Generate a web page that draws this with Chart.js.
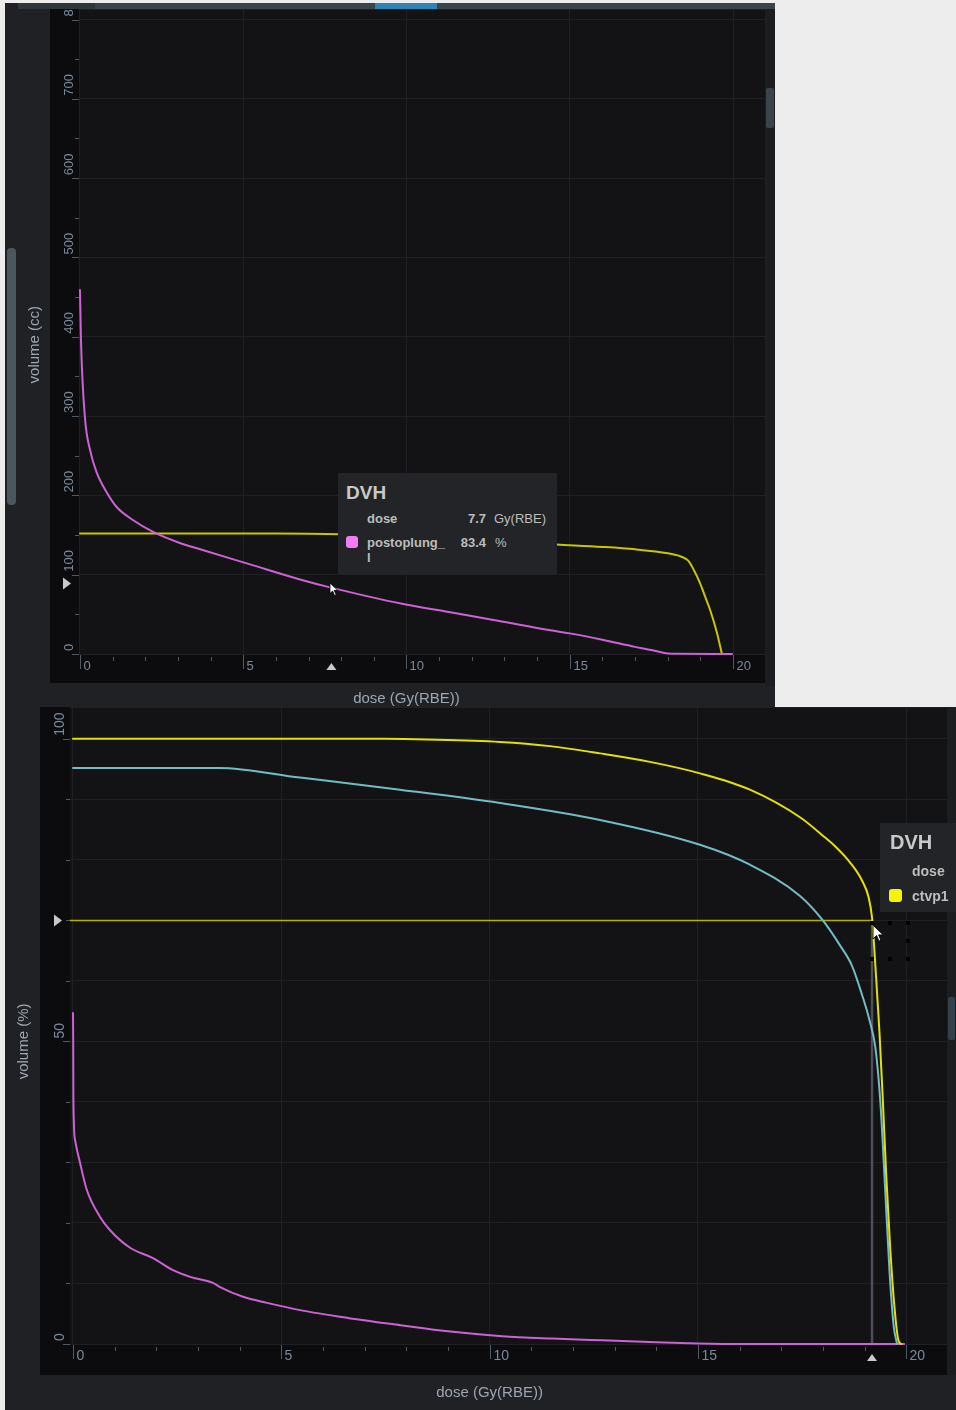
<!DOCTYPE html>
<html>
<head>
<meta charset="utf-8">
<title>DVH</title>
<script src="https://cdn.jsdelivr.net/npm/chart.js@4.4.1/dist/chart.umd.min.js"></script>
<style>
  html, body { margin: 0; padding: 0; }
  body { width: 956px; height: 1410px; background: #ededed; position: relative; overflow: hidden;
         font-family: "Liberation Sans", Arial, sans-serif; }
  canvas { position: absolute; }
  #topChart { left: 5px; top: 3px; }
  #botChart { left: 5px; top: 707px; }
  .tip { position: absolute; background: #222427; color: #bdbdbd; }
  .tip span { position: absolute; line-height: 1; white-space: nowrap; }
  .tip .b { font-weight: bold; }
  .sq { position: absolute; border-radius: 3px; }
  .dot { position: absolute; width: 4px; height: 4px; background: #000; }
  svg { position: absolute; }
</style>
</head>
<body>
<canvas id="topChart" width="770" height="704"></canvas>
<canvas id="botChart" width="951" height="703"></canvas>

<!-- hover box, upper chart -->
<div class="tip" style="left:338px;top:473px;width:219px;height:101px;">
  <span class="b" style="left:8px;top:10px;font-size:19px;color:#c9c9c9;">DVH</span>
  <span class="b" style="left:29px;top:39px;font-size:13px;">dose</span>
  <span class="b" style="right:71px;top:39px;font-size:13px;">7.7</span>
  <span style="left:156px;top:39px;font-size:13px;">Gy(RBE)</span>
  <div class="sq" style="left:8px;top:63px;width:12px;height:12px;background:#f27df2;"></div>
  <span class="b" style="left:29px;top:63px;font-size:13px;">postoplung_</span>
  <span class="b" style="right:71px;top:63px;font-size:13px;">83.4</span>
  <span style="left:157px;top:63px;font-size:13px;">%</span>
  <span class="b" style="left:29px;top:78px;font-size:13px;">l</span>
</div>

<!-- hover box, lower chart -->
<div class="tip" style="left:880px;top:823px;width:100px;height:89px;">
  <span class="b" style="left:10px;top:9px;font-size:20px;color:#c9c9c9;">DVH</span>
  <span class="b" style="left:32px;top:41px;font-size:14px;">dose</span>
  <div class="sq" style="left:9px;top:66px;width:13px;height:13px;background:#f5f500;"></div>
  <span class="b" style="left:32px;top:66px;font-size:14px;">ctvp1</span>
</div>

<div class="dot" style="left:870px;top:921px;"></div>
<div class="dot" style="left:888px;top:921px;"></div>
<div class="dot" style="left:906px;top:921px;"></div>
<div class="dot" style="left:906px;top:939px;"></div>
<div class="dot" style="left:870px;top:957px;"></div>
<div class="dot" style="left:888px;top:957px;"></div>
<div class="dot" style="left:906px;top:957px;"></div>

<svg style="left:329px;top:582px;" width="11" height="15"><path d="M1 1 L1 11.5 L3.6 9 L5.6 13.5 L7.2 12.8 L5.2 8.3 L8.8 8.3 Z" fill="#fff" stroke="#000" stroke-width="0.8"/></svg>
<svg style="left:872px;top:924px;" width="13" height="19"><path d="M1 1 L1 15 L4.5 11.6 L7 17.2 L9 16.3 L6.6 10.9 L11.2 10.9 Z" fill="#fff" stroke="#000" stroke-width="0.9"/></svg>

<script>
// upper chart: volume in cc
const topCtvDose  = [0, 6, 8, 10, 12, 14.6, 16, 17, 18, 18.4, 18.62, 18.8, 18.99, 19.15, 19.3, 19.51, 19.66];
const topCtvVol   = [152, 152, 151, 148, 144, 138, 135, 132, 127, 123, 118, 106, 89.5, 72, 55.5, 26.5, 0];
const topLungDose = [0, 0.03, 0.15, 0.31, 0.52, 0.83, 1.13, 1.62, 2.24, 3.06, 3.68, 5.21, 6.74, 7.66, 9.9, 11.3, 12.8, 14.4, 15.0, 16.0, 17.0, 17.5, 17.95, 18.3, 19.97];
const topLungVol  = [459, 396, 299, 257, 228, 203, 185, 169, 154, 140, 132, 113, 94, 84, 63, 53, 42, 30, 26, 18, 9, 5, 1, 0.2, 0];
const topYLabels  = [0, 100, 200, 300, 400, 500, 600, 700, 800];
const topXLabels  = [0, 5, 10, 15, 20];
const topMarker   = { dose: 7.7, vol: 89 };

// lower chart: volume in %
const botCtvDose  = [0, 7.5, 8.5, 10.25, 11.45, 12.65, 13.85, 15.05, 16.25, 17.46, 18.0, 18.3, 18.65, 18.94, 19.1, 19.18, 19.21, 19.31, 19.36, 19.4, 19.44, 19.52, 19.62, 19.72, 19.81, 19.88];
const botCtvVol   = [100, 100, 99.9, 99.5, 98.8, 97.6, 96.2, 94.3, 91.6, 87, 84, 82.2, 79.6, 76.6, 73.8, 70.5, 68, 57, 51.4, 45.8, 40.3, 28, 15.5, 6, 0.7, 0];
const botCyanDose = [0, 3.5, 5.45, 7.85, 10.25, 12.65, 15.05, 16.25, 17.46, 18.0, 18.4, 18.7, 18.95, 19.12, 19.26, 19.38, 19.5, 19.6, 19.7, 19.78];
const botCyanVol  = [95.2, 95.2, 93.6, 91.6, 89.4, 86.6, 82.5, 79.2, 74, 70, 66, 62.5, 57.5, 53.5, 49, 40, 25, 12, 3, 0];
const botLungDose = [0, 0.005, 0.01, 0.05, 0.17, 0.33, 0.65, 0.89, 1.37, 1.92, 2.4, 2.81, 3.36, 3.53, 4.08, 4.66, 5.45, 6.6, 7.86, 9, 10.3, 11.5, 12.7, 14, 15, 16, 19.95];
const botLungVol  = [54.7, 50, 40, 33.7, 29.9, 25.5, 21, 18.8, 15.9, 14.2, 12.2, 11.1, 10.1, 9.4, 7.8, 6.8, 5.6, 4.3, 3.1, 2.1, 1.3, 0.9, 0.6, 0.3, 0.1, 0, 0];
const botYLabels  = [0, 50, 100];
const botXLabels  = [0, 5, 10, 15, 20];
const botMarker   = { dose: 19.18, vol: 70 };
const crossHDose  = [-0.07, 19.18];
const crossHVol   = [70, 70];
const crossVDose  = [19.18, 19.18];
const crossVVol   = [0, 69];

const PANEL = '#1f2124', BAND = '#0c0c0e', PLOT = '#131316', GRID = '#1f2025';
const TICK = '#4f5a65', LABEL = '#7a8a9c', TITLE = '#9ea6b2';

const pts = (xs, ys) => xs.map((x, i) => ({ x: x, y: ys[i] }));

function line(xs, ys, color, width) {
  return {
    data: pts(xs, ys), borderColor: color, borderWidth: width,
    pointRadius: 0, cubicInterpolationMode: 'monotone', fill: false,
    borderJoinStyle: 'round', borderCapStyle: 'round',
    clip: { left: 3, top: 0, right: 0, bottom: 3 }
  };
}

// draws panel, dark axis bands, tick marks, rotated labels, titles, markers
function makeDecor(o) {
  return {
    id: 'decor',
    beforeDraw(chart) {
      const ctx = chart.ctx, ca = chart.chartArea;
      ctx.save();
      ctx.fillStyle = PANEL;
      ctx.fillRect(0, 0, chart.width, chart.height);
      ctx.fillStyle = BAND;
      ctx.fillRect(o.bandLeft, o.bandTop, ca.left - o.bandLeft, ca.bottom + o.xBandH - o.bandTop);
      ctx.fillRect(o.bandLeft, ca.bottom, ca.right - o.bandLeft, o.xBandH);
      ctx.fillStyle = PLOT;
      ctx.fillRect(ca.left, ca.top, ca.right - ca.left, ca.bottom - ca.top);
      ctx.restore();
    },
    afterDraw(chart) {
      const ctx = chart.ctx, ca = chart.chartArea;
      const xs = chart.scales.x, ys = chart.scales.y;
      ctx.save();
      ctx.lineWidth = 1;
      ctx.strokeStyle = TICK;
      ctx.fillStyle = LABEL;
      ctx.font = o.labelFont;
      ctx.textBaseline = 'middle';

      xs.ticks.forEach(t => {
        const px = Math.round(xs.getPixelForValue(t.value)) + 0.5;
        const major = o.xLabels.includes(t.value);
        ctx.beginPath();
        ctx.moveTo(px, ca.bottom + (major ? 1 : 3));
        ctx.lineTo(px, ca.bottom + (major ? 15 : 7));
        ctx.stroke();
        if (major) {
          ctx.textAlign = 'left';
          ctx.fillText(String(t.value), px + 3, ca.bottom + 12);
        }
      });

      ys.ticks.forEach(t => {
        const py = Math.round(ys.getPixelForValue(t.value)) + 0.5;
        const major = o.yLabels.includes(t.value);
        ctx.beginPath();
        ctx.moveTo(ca.left - (major ? 7 : 4), py);
        ctx.lineTo(ca.left, py);
        ctx.stroke();
      });
      o.yLabels.forEach(v => {
        const py = ys.getPixelForValue(v);
        ctx.save();
        ctx.translate(ca.left - o.yLabelDX, py - 3);
        ctx.rotate(-Math.PI / 2);
        ctx.textAlign = 'left';
        ctx.fillText(String(v), 0, 0);
        ctx.restore();
      });

      // axis titles
      ctx.fillStyle = TITLE;
      ctx.font = '15px "Liberation Sans", Arial, sans-serif';
      ctx.textAlign = 'center';
      ctx.fillText(o.xTitle, xs.getPixelForValue(o.xTitleAt), ca.bottom + o.xTitleDY);
      ctx.save();
      ctx.translate(o.yTitleX, ys.getPixelForValue(o.yTitleAt));
      ctx.rotate(-Math.PI / 2);
      ctx.fillText(o.yTitle, 0, 0);
      ctx.restore();

      // cursor markers on both axes
      ctx.fillStyle = '#c9c9c9';
      const my = ys.getPixelForValue(o.marker.vol);
      ctx.beginPath();
      ctx.moveTo(ca.left - 16, my - 6);
      ctx.lineTo(ca.left - 16, my + 6);
      ctx.lineTo(ca.left - 8, my);
      ctx.closePath();
      ctx.fill();
      const mx = xs.getPixelForValue(o.marker.dose);
      ctx.beginPath();
      ctx.moveTo(mx - 5, ca.bottom + o.triDY + 7);
      ctx.lineTo(mx + 5, ca.bottom + o.triDY + 7);
      ctx.lineTo(mx, ca.bottom + o.triDY);
      ctx.closePath();
      ctx.fill();

      // scrollbars of the viewer panel
      o.bars.forEach(b => {
        ctx.fillStyle = b[4];
        ctx.beginPath();
        ctx.roundRect(b[0], b[1], b[2], b[3], b[5] || 0);
        ctx.fill();
      });
      ctx.restore();
    }
  };
}

function buildChart(id, datasets, o) {
  return new Chart(document.getElementById(id), {
    type: 'line',
    data: { datasets: datasets },
    options: {
      responsive: false,
      animation: false,
      devicePixelRatio: 1,
      events: [],
      layout: { padding: o.padding },
      plugins: { legend: { display: false }, tooltip: { enabled: false } },
      scales: {
        x: {
          type: 'linear', min: o.xMin, max: o.xMax,
          ticks: { display: false, stepSize: 1, includeBounds: false },
          grid: { color: c => (c.tick && c.tick.value % 5 === 0) ? GRID : 'rgba(0,0,0,0)', drawTicks: false },
          border: { display: false },
          afterFit: s => { s.height = o.xAxisH; }
        },
        y: {
          type: 'linear', min: 0, max: o.yMax,
          ticks: { display: false, stepSize: o.yStep, includeBounds: false },
          grid: { color: c => (c.tick && c.tick.value % o.yGridEvery === 0) ? GRID : 'rgba(0,0,0,0)', drawTicks: false },
          border: { display: false },
          afterFit: s => { s.width = o.yAxisW; }
        }
      }
    },
    plugins: [makeDecor(o)]
  });
}

buildChart('topChart', [
  line(topLungDose, topLungVol, '#cc62d4', 2),
  line(topCtvDose, topCtvVol, '#c9c500', 2)
], {
  padding: { left: 0, right: 10, top: 7, bottom: 0 },
  yAxisW: 74, xAxisH: 53,
  xMin: -0.03, xMax: 20.98, yMax: 812, yStep: 50, yGridEvery: 100,
  xLabels: topXLabels, yLabels: topYLabels,
  labelFont: '13px "Liberation Sans", Arial, sans-serif',
  yLabelDX: 9.5, triDY: 9,
  bandLeft: 45, bandTop: 6, xBandH: 29,
  xTitle: 'dose (Gy(RBE))', xTitleAt: 10, xTitleDY: 45,
  yTitle: 'volume (cc)', yTitleAt: 390, yTitleX: 30,
  marker: topMarker,
  bars: [
    [760, 6, 10, 677, '#1b1d1f'],
    [761, 85, 8, 40, '#39454b', 2],
    [13, 0, 757, 6, '#30373b'],
    [90, 0, 680, 6, '#3b444a'],
    [370, 0, 62, 6, '#2f82b6'],
    [2, 245, 9, 257, '#4c575d', 4]
  ]
});

buildChart('botChart', [
  line(botCtvDose, botCtvVol, '#e3e100', 2),
  line(botCyanDose, botCyanVol, '#72bcc4', 2),
  line(botLungDose, botLungVol, '#cc62d4', 2),
  line(crossHDose, crossHVol, '#b3af00', 1.5),
  line(crossVDose, crossVVol, '#4e4e5a', 2.5)
], {
  padding: { left: 0, right: 9, top: 1, bottom: 0 },
  yAxisW: 65, xAxisH: 66,
  xMin: -0.072, xMax: 20.98, yMax: 105.1, yStep: 10, yGridEvery: 10,
  xLabels: botXLabels, yLabels: botYLabels,
  labelFont: '14px "Liberation Sans", Arial, sans-serif',
  yLabelDX: 10, triDY: 10,
  bandLeft: 35, bandTop: 0, xBandH: 31,
  xTitle: 'dose (Gy(RBE))', xTitleAt: 10, xTitleDY: 49,
  yTitle: 'volume (%)', yTitleAt: 50, yTitleX: 19,
  marker: botMarker,
  bars: [
    [942, 0, 9, 668, '#1b1d1f'],
    [943, 290, 7, 43, '#33414a', 2]
  ]
});
</script>
</body>
</html>
